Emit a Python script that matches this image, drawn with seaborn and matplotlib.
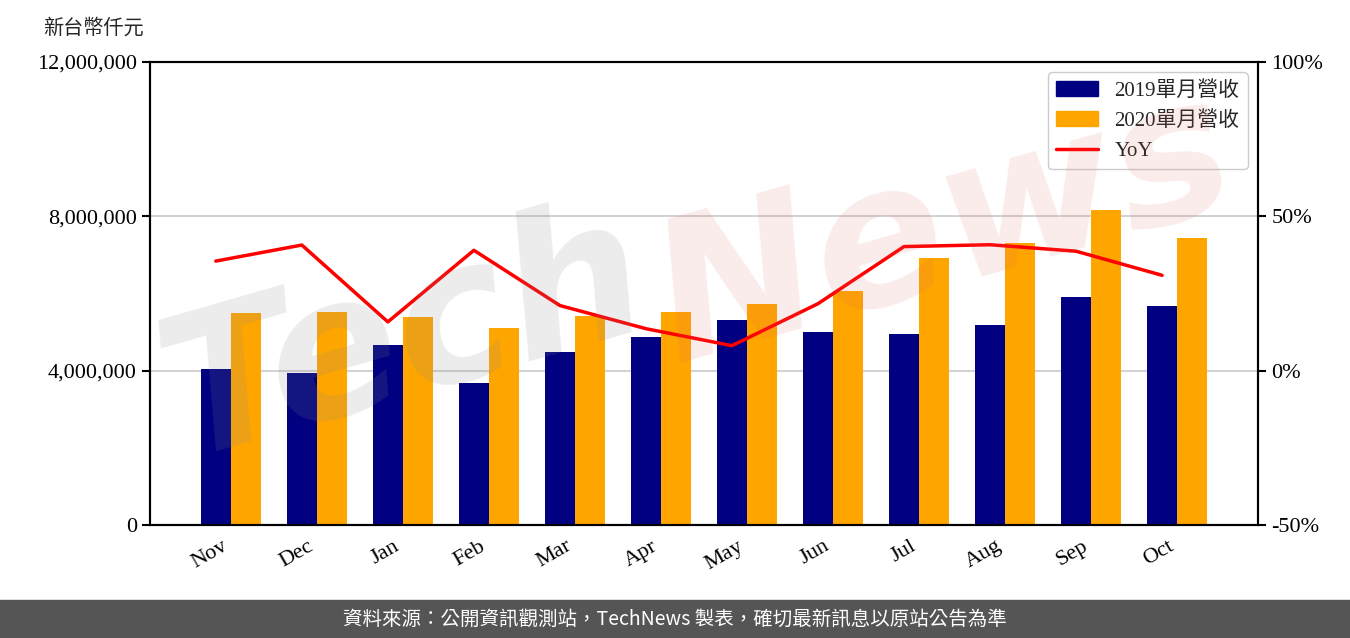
import numpy as np
import pandas as pd
import seaborn as sns
import matplotlib.pyplot as plt
from matplotlib.patches import Rectangle, Patch
from matplotlib.lines import Line2D
from matplotlib.ticker import FuncFormatter

# data (NT$ thousand, YoY %)
months = ['Nov', 'Dec', 'Jan', 'Feb', 'Mar', 'Apr', 'May', 'Jun', 'Jul', 'Aug', 'Sep', 'Oct']
rev_2019 = [4043000, 3940000, 4665000, 3680000, 4484000, 4873000,
            5313000, 5002000, 4950000, 5184000, 5909000, 5676000]
rev_2020 = [5495000, 5520000, 5390000, 5106000, 5417000, 5520000,
            5728000, 6065000, 6920000, 7309000, 8164000, 7438000]
yoy = [35.5, 40.7, 15.8, 39.0, 21.1, 13.6, 8.1, 21.7, 40.2, 40.8, 38.7, 30.9]
series_names = ['2019單月營收', '2020單月營收']
colors = {'2019單月營收': '#000080', '2020單月營收': '#FFA500'}

df = pd.DataFrame({
    'month': months * 2,
    'series': [series_names[0]] * 12 + [series_names[1]] * 12,
    'value': rev_2019 + rev_2020,
})

sns.set_style('white')
plt.rcParams['font.family'] = ['Liberation Serif', 'Noto Sans CJK TC', 'DejaVu Sans']

fig = plt.figure(figsize=(13.5, 6.38), dpi=100)
ax = fig.add_axes([150 / 1350, 1 - 525 / 638, (1258 - 150) / 1350, (525 - 62) / 638])

sns.barplot(data=df, x='month', y='value', hue='series', order=months,
            hue_order=series_names, palette=colors, width=0.7, saturation=1,
            linewidth=0, edgecolor='none', legend=False, ax=ax)
ax.set_ylim(0, 12000000)
ax.set_yticks([0, 4000000, 8000000, 12000000])
ax.yaxis.set_major_formatter(FuncFormatter(lambda v, p: f'{v:,.0f}'))
ax.set_axisbelow(True)
ax.yaxis.grid(True, color='#d3d3d3', lw=1.5)
ax.set_xlabel('')
ax.set_ylabel('')

# YoY line on the secondary axis, placed at the 2019 bar centres
ax2 = ax.twinx()
sns.lineplot(x=np.arange(len(months)) - 0.175, y=yoy, color='red', lw=2.5, ax=ax2)
ax2.set_ylim(-50, 100)
ax2.set_yticks([-50, 0, 50, 100])
ax2.yaxis.set_major_formatter(FuncFormatter(lambda v, p: f'{v:.0f}%'))
ax2.grid(False)
ax.set_xlim(-0.94, 11.94)

for a in (ax, ax2):
    for s in a.spines.values():
        s.set_visible(True)
        s.set_color('black')
        s.set_linewidth(1.5)
    a.tick_params(direction='out', length=6, width=1.5, color='black',
                  labelsize=16, labelcolor='black')
ax.tick_params(axis='x', length=5, width=1.2, color='#333333')
ax.set_xticks(range(len(months)))
ax.set_xticklabels(months, rotation=30, ha='right')

handles = [Patch(color=colors[series_names[0]]), Patch(color=colors[series_names[1]]),
           Line2D([], [], color='red', lw=2.5)]
leg = ax2.legend(handles, series_names + ['YoY'], loc='upper right', fontsize=15,
                 frameon=True, fancybox=True, edgecolor='#cccccc', framealpha=1)

fig.text(43 / 1350, 1 - 28 / 638, '新台幣仟元', fontsize=14.5, ha='left', va='center',
         family=['Noto Sans CJK TC'])

# watermark
fig.text(0.30, 0.47, 'Tech', fontsize=140, fontweight='bold', style='italic',
         color='#888888', alpha=0.16, rotation=16, ha='center', va='center',
         family=['DejaVu Sans'])
fig.text(0.70, 0.64, 'News', fontsize=140, fontweight='bold', style='italic',
         color='#e06060', alpha=0.12, rotation=16, ha='center', va='center',
         family=['DejaVu Sans'])

# footer band
fig.patches.append(Rectangle((0, 0), 1, 38 / 638, transform=fig.transFigure,
                             color='#555555', zorder=5))
fig.text(0.5, 19 / 638, '資料來源：公開資訊觀測站，TechNews 製表，確切最新訊息以原站公告為準',
         color='white', fontsize=14, ha='center', va='center', zorder=6,
         family=['Noto Sans CJK TC'])

fig.savefig('out.png', dpi=100)
